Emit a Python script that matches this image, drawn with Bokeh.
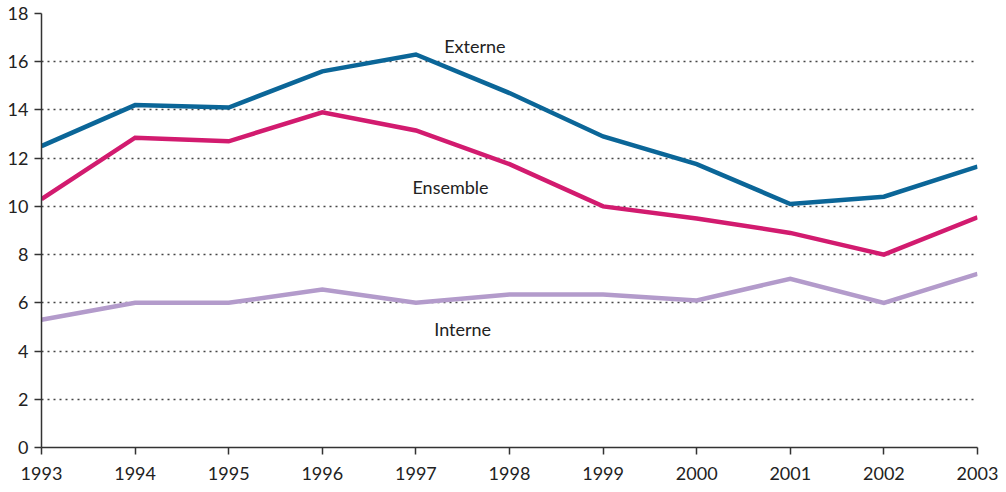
from bokeh.plotting import figure
from bokeh.embed import file_html
from bokeh.resources import INLINE
from bokeh.models import FixedTicker, Range1d
from bokeh.core.properties import value

years = [1993, 1994, 1995, 1996, 1997, 1998, 1999, 2000, 2001, 2002, 2003]
externe = [12.5, 14.2, 14.1, 15.6, 16.3, 14.7, 12.9, 11.75, 10.1, 10.4, 11.65]
ensemble = [10.3, 12.85, 12.7, 13.9, 13.15, 11.75, 10.0, 9.5, 8.9, 8.0, 9.55]
interne = [5.3, 6.0, 6.0, 6.55, 6.0, 6.35, 6.35, 6.1, 7.0, 6.0, 7.2]
y_ticks = [0, 2, 4, 6, 8, 10, 12, 14, 16, 18]

labels = ["Externe", "Ensemble", "Interne"]
label_x = [1997.63, 1997.37, 1997.5]
label_y = [16.65, 10.8, 4.92]

colors = ["#0b6698", "#d21b6f", "#b39bcb"]
FONT = "Lato"

p = figure(frame_width=936, frame_height=434, width=1003, height=487,
           output_backend="svg", toolbar_location=None,
           x_range=Range1d(1993, 2003), y_range=Range1d(0, 18),
           min_border_left=41, min_border_top=13, min_border_right=26,
           min_border_bottom=40)
p.outline_line_color = None
p.background_fill_color = "white"

for ys, c in zip([externe, ensemble, interne], colors):
    p.line(years, ys, line_color=c, line_width=4.5, line_join="miter")

p.text(x=label_x, y=label_y, text=labels, text_font=value(FONT),
       text_font_size="18px", text_color="#222222",
       text_align="center", text_baseline="middle")

p.xgrid.grid_line_color = None
p.ygrid.ticker = FixedTicker(ticks=y_ticks[1:])
p.ygrid.grid_line_color = "#444444"
p.ygrid.grid_line_dash = "2 4"
p.ygrid.grid_line_width = 1.5

p.xaxis.ticker = FixedTicker(ticks=years)
p.yaxis.ticker = FixedTicker(ticks=y_ticks)
for ax in (p.xaxis, p.yaxis):
    ax.axis_line_color = "#333333"
    ax.axis_line_width = 1.5
    ax.major_tick_line_color = "#333333"
    ax.major_tick_line_width = 1.5
    ax.major_tick_in = 0
    ax.major_tick_out = 7
    ax.minor_tick_line_color = None
    ax.major_label_text_font = FONT
    ax.major_label_text_font_size = "18px"
    ax.major_label_text_color = "#222222"
p.xaxis.major_label_standoff = 12
p.yaxis.major_label_standoff = 6

open("out.html", "w").write(file_html(p, INLINE))
